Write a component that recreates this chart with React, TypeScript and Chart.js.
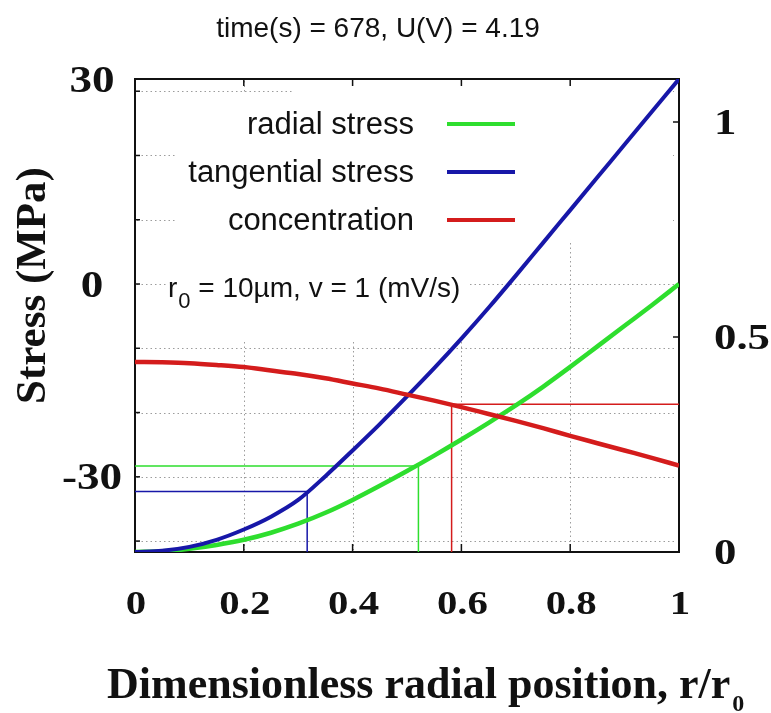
import { useEffect, useRef } from 'react';
import { Chart, registerables } from 'chart.js';

Chart.register(...registerables);

// ---- data ----
const radialPosition = [0, 0.05, 0.1, 0.15, 0.2, 0.25, 0.3, 0.35, 0.4, 0.45, 0.5, 0.55, 0.6, 0.65, 0.7, 0.75, 0.8, 0.85, 0.9, 0.95, 1];
const radialStress = [-41.7, -41.6, -41.2, -40.6, -39.8, -38.7, -37.3, -35.6, -33.6, -31.4, -29.1, -26.7, -24.2, -21.6, -18.9, -16.0, -12.9, -9.7, -6.5, -3.3, 0];
const tangentialStress = [-41.7, -41.5, -40.9, -39.8, -38.2, -36.2, -33.6, -29.9, -25.9, -21.8, -17.5, -13.1, -8.5, -3.7, 1.3, 6.4, 11.5, 16.6, 21.7, 26.8, 31.9];
const concentration = [0.442, 0.441, 0.439, 0.435, 0.43, 0.422, 0.414, 0.404, 0.392, 0.38, 0.366, 0.352, 0.337, 0.321, 0.305, 0.288, 0.27, 0.253, 0.236, 0.219, 0.201];

const radialMarker = [0.521, -28.3];
const tangentialMarker = [0.3165, -32.3];
const concentrationMarker = [0.582, 0.3435];

const stressRange = [-41.7, 31.9];
const concentrationRange = [0, 1.1];
const xRange = [0, 1];

const xTickValues = [0, 0.2, 0.4, 0.6, 0.8, 1];
const xTickLabels = ['0', '0.2', '0.4', '0.6', '0.8', '1'];
const stressTickValues = [-30, 0, 30];
const stressTickLabels = ['-30', '0', '30'];
const stressGridValues = [-40, -30, -20, -10, 0, 10, 20, 30];
const concTickValues = [0, 0.5, 1];
const concTickLabels = ['0', '0.5', '1'];

const titleText = 'time(s) = 678, U(V) = 4.19';
const yTitle = 'Stress (MPa)';
const xTitle = 'Dimensionless radial position, r/r';
const xTitleSub = '0';
const legendLabels = ['radial stress', 'tangential stress', 'concentration'];
const noteParts = ['r', '0', ' = 10µm, v = 1 (mV/s)'];

const GREEN = '#2ede2e';
const BLUE = '#1717a8';
const RED = '#d41c1c';

const SERIF = '"Liberation Serif", "Times New Roman", serif';
const SANS = '"Liberation Sans", Arial, sans-serif';

function series(ys: number[]) {
  return radialPosition.map((x, i) => ({ x, y: ys[i] }));
}

function stretchText(ctx: CanvasRenderingContext2D, text: string, x: number, y: number, sx: number, align: CanvasTextAlign) {
  ctx.save();
  ctx.translate(x, y);
  ctx.scale(sx, 1);
  ctx.textAlign = align;
  ctx.textBaseline = 'alphabetic';
  ctx.fillText(text, 0, 0);
  ctx.restore();
}

const decorPlugin = {
  id: 'decor',
  beforeDatasetsDraw(chart: any) {
    const ctx: CanvasRenderingContext2D = chart.ctx;
    const { left, right, top, bottom } = chart.chartArea;
    const xs = chart.scales.x;
    const ys = chart.scales.y;
    const y1 = chart.scales.y1;
    ctx.save();
    // dotted grid
    ctx.strokeStyle = '#9c9c9c';
    ctx.lineWidth = 1;
    ctx.setLineDash([1.5, 3]);
    stressGridValues.forEach((v) => {
      const y = Math.round(ys.getPixelForValue(v)) + 0.5;
      ctx.beginPath();
      ctx.moveTo(left + 2, y);
      ctx.lineTo(right - 2, y);
      ctx.stroke();
    });
    xTickValues.forEach((v) => {
      if (v <= 0 || v >= 1) return;
      const x = Math.round(xs.getPixelForValue(v)) + 0.5;
      ctx.beginPath();
      ctx.moveTo(x, top + 2);
      ctx.lineTo(x, bottom - 2);
      ctx.stroke();
    });
    ctx.setLineDash([]);
    // white legend/annotation background boxes (in data units)
    ctx.fillStyle = '#ffffff';
    const box = (r0: number, r1: number, s0: number, s1: number) => {
      const x0 = xs.getPixelForValue(r0);
      const x1 = xs.getPixelForValue(r1);
      const ya = ys.getPixelForValue(s1);
      const yb = ys.getPixelForValue(s0);
      ctx.fillRect(x0, ya, x1 - x0, yb - ya);
    };
    box(0.289, 0.989, 29.6, 31.9);
    box(0.077, 0.989, 6.85, 29.6);
    box(0.059, 0.612, -9.0, 6.85);
    // inward ticks
    ctx.strokeStyle = '#111';
    ctx.lineWidth = 1.5;
    stressGridValues.forEach((v) => {
      const y = ys.getPixelForValue(v);
      ctx.beginPath();
      ctx.moveTo(left, y);
      ctx.lineTo(left + 5, y);
      ctx.stroke();
    });
    concTickValues.forEach((v) => {
      if (v <= 0) return;
      const y = y1.getPixelForValue(v);
      ctx.beginPath();
      ctx.moveTo(right, y);
      ctx.lineTo(right - 6, y);
      ctx.stroke();
    });
    xTickValues.forEach((v) => {
      if (v <= 0 || v >= 1) return;
      const x = xs.getPixelForValue(v);
      ctx.beginPath();
      ctx.moveTo(x, top);
      ctx.lineTo(x, top + 7);
      ctx.moveTo(x, bottom);
      ctx.lineTo(x, bottom - 8);
      ctx.stroke();
    });
    // frame
    ctx.lineWidth = 2;
    ctx.strokeStyle = '#111';
    ctx.strokeRect(left, top, right - left, bottom - top);
    ctx.restore();
  },
  afterDraw(chart: any) {
    const ctx: CanvasRenderingContext2D = chart.ctx;
    const { left, right, top, bottom } = chart.chartArea;
    const xs = chart.scales.x;
    const ys = chart.scales.y;
    const y1 = chart.scales.y1;
    ctx.save();
    ctx.fillStyle = '#111';

    // title
    ctx.font = `28px ${SANS}`;
    stretchText(ctx, titleText, 378, 37, 1, 'center');

    // x tick labels
    ctx.font = `bold 34px ${SERIF}`;
    xTickValues.forEach((v, i) => {
      stretchText(ctx, xTickLabels[i], xs.getPixelForValue(v) + 1, bottom + 62, 1.2, 'center');
    });

    // left tick labels (end label anchored to axis end)
    ctx.font = `bold 37px ${SERIF}`;
    stressTickValues.forEach((v, i) => {
      const anchor = Math.abs(v - ys.max) < 2.5 ? top : ys.getPixelForValue(v);
      stretchText(ctx, stressTickLabels[i], left - 43, anchor + 12.5, 1.22, 'center');
    });

    // right tick labels
    ctx.font = `bold 35px ${SERIF}`;
    concTickValues.forEach((v, i) => {
      stretchText(ctx, concTickLabels[i], right + 35, y1.getPixelForValue(v) + 11.5, 1.28, 'left');
    });

    // y title
    ctx.save();
    ctx.font = `bold 43px ${SERIF}`;
    ctx.translate(33.5, (top + bottom) / 2 - 30);
    ctx.rotate(-Math.PI / 2);
    ctx.textAlign = 'center';
    ctx.textBaseline = 'middle';
    ctx.fillText(yTitle, 0, 0);
    ctx.restore();

    // x title with subscript
    ctx.font = `bold 44px ${SERIF}`;
    ctx.textAlign = 'left';
    ctx.textBaseline = 'alphabetic';
    const xt0 = left - 28;
    ctx.fillText(xTitle, xt0, 698);
    const w = ctx.measureText(xTitle).width;
    ctx.font = `bold 24px ${SERIF}`;
    ctx.fillText(xTitleSub, xt0 + w + 2, 711);

    // legend
    const legendColors = [GREEN, BLUE, RED];
    ctx.font = `31px ${SANS}`;
    legendLabels.forEach((label, i) => {
      const base = 134 + i * 48;
      ctx.fillStyle = '#111';
      ctx.textAlign = 'right';
      ctx.fillText(label, 414, base);
      ctx.strokeStyle = legendColors[i];
      ctx.lineWidth = 4;
      ctx.beginPath();
      ctx.moveTo(447, base - 10);
      ctx.lineTo(515, base - 10);
      ctx.stroke();
    });

    // annotation r0 = ...
    ctx.fillStyle = '#111';
    ctx.textAlign = 'left';
    ctx.font = `28px ${SANS}`;
    let nx = 168;
    ctx.fillText(noteParts[0], nx, 297);
    nx += ctx.measureText(noteParts[0]).width + 1;
    ctx.font = `22px ${SANS}`;
    ctx.fillText(noteParts[1], nx, 308);
    nx += ctx.measureText(noteParts[1]).width;
    ctx.font = `28px ${SANS}`;
    ctx.fillText(noteParts[2], nx, 297);

    ctx.restore();
  },
};

export default function App() {
  const canvasRef = useRef<HTMLCanvasElement | null>(null);

  useEffect(() => {
    if (!canvasRef.current) return;
    const stressMin = stressRange[0];
    const guide = (pts: { x: number; y: number }[], color: string, axis: string) => ({
      data: pts,
      yAxisID: axis,
      borderColor: color,
      borderWidth: 1.5,
      pointRadius: 0,
      tension: 0,
      fill: false,
    });
    const chart = new Chart(canvasRef.current, {
      type: 'line',
      data: {
        datasets: [
          {
            label: legendLabels[2],
            data: series(concentration),
            yAxisID: 'y1',
            borderColor: RED,
            borderWidth: 4.5,
            pointRadius: 0,
            cubicInterpolationMode: 'monotone',
            fill: false,
          },
          {
            label: legendLabels[1],
            data: series(tangentialStress),
            yAxisID: 'y',
            borderColor: BLUE,
            borderWidth: 4,
            pointRadius: 0,
            cubicInterpolationMode: 'monotone',
            fill: false,
          },
          {
            label: legendLabels[0],
            data: series(radialStress),
            yAxisID: 'y',
            borderColor: GREEN,
            borderWidth: 4.5,
            pointRadius: 0,
            cubicInterpolationMode: 'monotone',
            fill: false,
          },
          guide(
            [
              { x: 0, y: tangentialMarker[1] },
              { x: tangentialMarker[0], y: tangentialMarker[1] },
              { x: tangentialMarker[0], y: stressMin },
            ],
            BLUE,
            'y'
          ),
          guide(
            [
              { x: 0, y: radialMarker[1] },
              { x: radialMarker[0], y: radialMarker[1] },
              { x: radialMarker[0], y: stressMin },
            ],
            GREEN,
            'y'
          ),
          guide(
            [
              { x: 1, y: concentrationMarker[1] },
              { x: concentrationMarker[0], y: concentrationMarker[1] },
              { x: concentrationMarker[0], y: concentrationRange[0] },
            ],
            RED,
            'y1'
          ),
        ] as any,
      },
      options: {
        responsive: false,
        animation: false,
        layout: { padding: { top: 79, left: 0, right: 0, bottom: 0 } },
        plugins: {
          legend: { display: false },
          title: { display: false },
          tooltip: { enabled: false },
        },
        scales: {
          x: {
            type: 'linear',
            position: 'bottom',
            min: xRange[0],
            max: xRange[1],
            grid: { display: false },
            border: { display: false },
            ticks: { display: false },
            afterFit: (s: any) => {
              s.height = 161;
            },
          },
          y: {
            type: 'linear',
            position: 'left',
            min: stressRange[0],
            max: stressRange[1],
            grid: { display: false },
            border: { display: false },
            ticks: { display: false },
            afterFit: (s: any) => {
              s.width = 135;
            },
          },
          y1: {
            type: 'linear',
            position: 'right',
            min: concentrationRange[0],
            max: concentrationRange[1],
            grid: { display: false },
            border: { display: false },
            ticks: { display: false },
            afterFit: (s: any) => {
              s.width = 92;
            },
          },
        },
      } as any,
      plugins: [decorPlugin],
    });
    return () => chart.destroy();
  }, []);

  return (
    <div style={{ position: 'absolute', left: 0, top: 0, width: 771, height: 713, background: '#fff' }}>
      <canvas ref={canvasRef} width={771} height={713} style={{ display: 'block' }} />
    </div>
  );
}
